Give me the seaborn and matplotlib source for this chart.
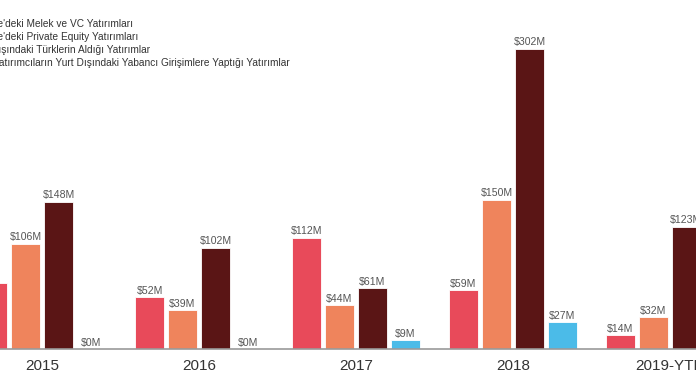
import matplotlib.pyplot as plt
import seaborn as sns
import pandas as pd

years = ['2015', '2016', '2017', '2018', '2019-YTD']
series = ["Türkiye'deki Melek ve VC Yatırımları",
          "Türkiye'deki Private Equity Yatırımları",
          "Yurt Dışındaki Türklerin Aldığı Yatırımlar",
          "Türk Yatırımcıların Yurt Dışındaki Yabancı Girişimlere Yaptığı Yatırımlar"]
vc = [66, 52, 112, 59, 14]
pe = [106, 39, 44, 150, 32]
abroad = [148, 102, 61, 302, 123]
foreign = [0, 0, 9, 27, 0]
colors = ['#E84A5A', '#EF845C', '#5A1515', '#4BBBE8']

rows = []
for name, vals in zip(series, [vc, pe, abroad, foreign]):
    for y, v in zip(years, vals):
        rows.append({'Yıl': y, 'Seri': name, 'Değer': v})
df = pd.DataFrame(rows)

sns.set_style('white')
plt.rcParams['font.family'] = ['Liberation Sans', 'DejaVu Sans']

fig = plt.figure(figsize=(6.96, 3.85), dpi=100)
ax = fig.add_axes([0, 36 / 385, 1, 349 / 385])
sns.barplot(data=df, x='Yıl', y='Değer', hue='Seri', hue_order=series,
            palette=colors, width=0.84, gap=0.12, saturation=1,
            edgecolor='white', linewidth=0.6, ax=ax, legend=True)

for cont, vals in zip(ax.containers, [vc, pe, abroad, foreign]):
    ax.bar_label(cont, labels=[f'${v}M' for v in vals], padding=1,
                 fontsize=7.6, color='#555555')

ax.set_xlim(-0.2675, 4.166)
ax.set_ylim(0, 351)
ax.set_xlabel('')
ax.set_ylabel('')
ax.set_yticks([])
for s in ['top', 'left', 'right']:
    ax.spines[s].set_visible(False)
ax.spines['bottom'].set_color('#9a9a9a')
ax.spines['bottom'].set_linewidth(1.2)
ax.tick_params(axis='x', length=0, pad=7, labelsize=11, labelcolor='#333333')

leg = ax.legend(loc='upper left', bbox_to_anchor=(-0.090, 0.995),
                bbox_transform=fig.transFigure, frameon=False,
                fontsize=7.3, labelcolor='#333333', handlelength=1.0,
                handleheight=0.8, handletextpad=0.5, labelspacing=0.28,
                borderpad=1.2)

fig.savefig('out.png', dpi=100)
